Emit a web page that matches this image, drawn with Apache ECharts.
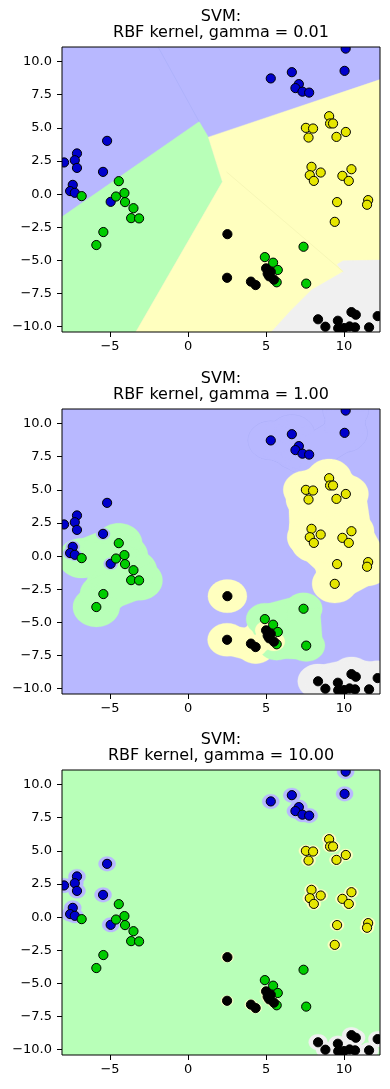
<!DOCTYPE html>
<html><head><meta charset="utf-8">
<script src="https://cdn.jsdelivr.net/npm/echarts@6/dist/echarts.min.js"></script>
<style>html,body{margin:0;padding:0;background:#fff}#c{width:390px;height:1089px}</style>
</head><body><div id="c"></div>
<script>
// ---- data ----
const blueTop = [[5.3,8.73],[6.65,9.2],[7.1,8.3],[6.88,8.0],[7.33,7.73],[7.76,7.66],[10.1,10.98],[10.03,9.3]];
const blueLeft = [[-7.95,2.39],[-7.12,3.07],[-7.26,2.56],[-7.12,1.98],[-7.39,0.70],[-7.56,0.23],[-7.26,0.10],[-5.19,4.02],[-5.45,1.68],[-4.96,-0.58]];
const yellowPts = [[7.55,5.0],[8.01,4.95],[7.72,4.27],[9.04,5.88],[9.1,5.33],[9.29,5.33],[9.51,4.32],[10.11,4.69],[7.91,2.06],[7.80,1.43],[8.06,1.0],[8.50,1.63],[9.89,1.38],[10.47,1.88],[10.30,1.0],[9.55,-0.6],[11.54,-0.45],[11.47,-0.8],[9.40,-2.09]];
const greenLeft = [[-4.44,0.98],[-4.62,-0.18],[-4.08,0.08],[-4.04,-0.60],[-3.50,-1.06],[-3.65,-1.81],[-3.14,-1.83],[-6.82,-0.15],[-5.43,-2.86],[-5.88,-3.84]];
const greenMid = [[4.92,-4.75],[5.45,-5.17],[5.75,-5.72],[5.68,-6.65],[7.40,-3.97],[7.57,-6.75]];
const blackMid = [[2.52,-3.02],[2.5,-6.31],[4.03,-6.6],[4.33,-6.86],[5.0,-5.6],[5.1,-6.0],[5.3,-5.85],[5.2,-6.2],[5.5,-6.45]];
const blackCorner = [[8.33,-9.44],[8.8,-10.0],[9.6,-9.55],[9.62,-10.12],[10.0,-10.1],[10.47,-8.9],[10.75,-9.1],[10.35,-9.98],[10.7,-10.05],[11.6,-10.05],[12.15,-9.2]];
const gammas = ['0.01', '1.00', '10.00'];
const xTicks = [-5, 0, 5, 10];
const yTicks = [-10, -7.5, -5, -2.5, 0, 2.5, 5, 7.5, 10];
const xRange = [-8.08, 12.3];
const yRange = [-10.4, 11.1];
// plot 1 (gamma = 0.01) decision regions, data units
const p1Green = [[-8.08,-1.71],[0.71,5.47],[1.3,4.3],[2.2,0.93],[-3.35,-10.4],[-8.08,-10.4]];
const p1Yellow = [[1.3,4.3],[12.3,8.64],[12.3,-10.4],[-3.35,-10.4],[2.2,0.93]];
const p1Gray = [[5.34,-10.4],[6.52,-8.87],[7.91,-7.23],[9.94,-5.85],[9.55,-5.3],[9.94,-5.03],[12.3,-4.97],[12.3,-10.4]];
const p1BlueEdge = [[-1.92,11.1],[0.71,5.47]];
const p1YellowEdge = [[2.46,1.68],[9.94,-5.85]];

// ---- styles ----
const C = {blue:'#0000cc', green:'#00cc00', yellow:'#e6e600', black:'#000000'};
const BG = {blue:'#b8b8ff', green:'#b8ffb8', yellow:'#ffffbf', gray:'#f0f0f0'};
const grids = [47, 409, 770].map(t => ({left:62, top:t, width:318, height:285, show:true, borderWidth:0, backgroundColor:'#fff'}));
grids[0].backgroundColor = BG.blue; grids[1].backgroundColor = BG.blue; grids[2].backgroundColor = BG.green;

const font = '"DejaVu Sans", sans-serif';
const minus = s => String(s).replace('-', '\u2212');
const xAxes = grids.map((g,i) => ({type:'value', gridIndex:i, min:xRange[0], max:xRange[1], position:'bottom',
  splitLine:{show:false}, axisLine:{show:false, onZero:false},
  axisTick:{show:true, inside:false, length:5, customValues:xTicks, lineStyle:{color:'#000', width:1}},
  axisLabel:{customValues:xTicks, color:'#000', fontSize:13, fontFamily:font, margin:8, formatter:v=>minus(v)}}));
const yAxes = grids.map((g,i) => ({type:'value', gridIndex:i, min:yRange[0], max:yRange[1], position:'left',
  splitLine:{show:false}, axisLine:{show:false, onZero:false},
  axisTick:{show:true, inside:false, length:5, customValues:yTicks, lineStyle:{color:'#000', width:1}},
  axisLabel:{customValues:yTicks, color:'#000', fontSize:13, fontFamily:font, margin:10, formatter:v=>minus(Number(v).toFixed(1))}}));

function polySeries(gi, verts, fill) {
  return {type:'custom', xAxisIndex:gi, yAxisIndex:gi, silent:true, clip:true, z:1, data:[verts[0]],
    renderItem:(p, api) => ({type:'polygon', shape:{points:verts.map(v=>api.coord(v))}, style:{fill:fill, stroke:fill, lineWidth:0.5}})};
}
function lineSeries(gi, verts, color) {
  return {type:'custom', xAxisIndex:gi, yAxisIndex:gi, silent:true, clip:true, z:1, data:[verts[0]],
    renderItem:(p, api) => ({type:'polyline', shape:{points:verts.map(v=>api.coord(v))}, style:{fill:'none', stroke:color, lineWidth:1}})};
}
// region made of ellipses around points plus bridges between close points (data units)
function blobSeries(gi, pts, R, D, fill, stroke) {
  const pairs = [];
  for (let i = 0; i < pts.length; i++) for (let j = i + 1; j < pts.length; j++) {
    const dx = pts[j][0] - pts[i][0], dy = pts[j][1] - pts[i][1];
    if (Math.hypot(dx, dy) < D) pairs.push([pts[i][0], pts[i][1], pts[j][0], pts[j][1]]);
  }
  const st = {fill:fill, stroke:stroke || fill, lineWidth:stroke ? 1 : 0.3};
  const out = [{type:'custom', xAxisIndex:gi, yAxisIndex:gi, silent:true, clip:true, z:1, data:pts,
    renderItem:(p, api) => {
      const c = api.coord([api.value(0), api.value(1)]);
      const s = api.size([R, R]);
      return {type:'ellipse', shape:{cx:c[0], cy:c[1], rx:s[0], ry:s[1]}, style:st};
    }}];
  if (pairs.length) out.push({type:'custom', xAxisIndex:gi, yAxisIndex:gi, silent:true, clip:true, z:1, data:pairs,
    renderItem:(p, api) => {
      const x1 = api.value(0), y1 = api.value(1), x2 = api.value(2), y2 = api.value(3);
      const L = Math.hypot(x2 - x1, y2 - y1), k = 0.88 * R;
      const nx = -(y2 - y1) / L * k, ny = (x2 - x1) / L * k;
      const pts4 = [[x1 + nx, y1 + ny], [x2 + nx, y2 + ny], [x2 - nx, y2 - ny], [x1 - nx, y1 - ny]].map(v => api.coord(v));
      return {type:'polygon', shape:{points:pts4}, style:st};
    }});
  return out;
}
function pointSeries(gi, pts, color) {
  return {type:'custom', xAxisIndex:gi, yAxisIndex:gi, silent:true, clip:true, z:3, data:pts,
    renderItem:(p, api) => {
      const c = api.coord([api.value(0), api.value(1)]);
      return {type:'circle', shape:{cx:c[0], cy:c[1], r:4.6}, style:{fill:color, stroke:'#000', lineWidth:1}};
    }};
}
function frameSeries(gi) {
  return {type:'custom', xAxisIndex:gi, yAxisIndex:gi, silent:true, clip:false, z:5, data:[[0,0]],
    renderItem:(p, api) => {
      const cs = p.coordSys;
      return {type:'rect', shape:{x:cs.x, y:cs.y, width:cs.width, height:cs.height}, style:{fill:'none', stroke:'#000', lineWidth:1}};
    }};
}

const series = [];
// plot 1
series.push(polySeries(0, p1Green, BG.green));
series.push(polySeries(0, p1Yellow, BG.yellow));
series.push(polySeries(0, p1Gray, BG.gray));
series.push(lineSeries(0, p1BlueEdge, '#aeb2fb'));
series.push(lineSeries(0, p1YellowEdge, '#f7f7b6'));
// plot 2
series.push(...blobSeries(1, blueTop, 1.45, 3.0, BG.blue, '#aaaef8'));
series.push(...blobSeries(1, blueTop, 1.45, 3.0, BG.blue));
series.push(...blobSeries(1, blackMid, 1.25, 2.0, BG.yellow));
series.push(...blobSeries(1, greenLeft, 1.5, 3.0, BG.green));
series.push(...blobSeries(1, greenMid, 1.2, 3.0, BG.green));
series.push(...blobSeries(1, blackMid, 0.7, 1.2, BG.yellow));
series.push(...blobSeries(1, blueLeft, 0.45, 0.1, BG.blue));
series.push(...blobSeries(1, yellowPts, 1.45, 2.9, BG.yellow));
series.push(...blobSeries(1, blackCorner, 1.3, 2.5, BG.gray));
// plot 3
series.push(...blobSeries(2, blueTop, 0.55, 0.1, BG.blue));
series.push(...blobSeries(2, blueLeft, 0.55, 0.1, BG.blue));
series.push(...blobSeries(2, yellowPts, 0.45, 0.1, BG.yellow));
series.push(...blobSeries(2, blackMid, 0.4, 0.1, '#f6fcc4'));
series.push(...blobSeries(2, blackCorner, 0.6, 0.1, BG.gray));
// points + frames
for (let g = 0; g < 3; g++) {
  series.push(pointSeries(g, blueTop, C.blue));
  series.push(pointSeries(g, blueLeft, C.blue));
  series.push(pointSeries(g, yellowPts, C.yellow));
  series.push(pointSeries(g, greenLeft, C.green));
  series.push(pointSeries(g, greenMid, C.green));
  series.push(pointSeries(g, blackMid, C.black));
  series.push(pointSeries(g, blackCorner, C.black));
  series.push(frameSeries(g));
}

const graphic = [];
[0, 362, 723].forEach((off, i) => {
  graphic.push({type:'text', x:221, y:17 + off, style:{text:'SVM:', fill:'#000', font:'16px ' + font, textAlign:'center', textVerticalAlign:'middle'}});
  graphic.push({type:'text', x:221, y:33 + off, style:{text:'RBF kernel, gamma = ' + gammas[i], fill:'#000', font:'16px ' + font, textAlign:'center', textVerticalAlign:'middle'}});
});

const chart = echarts.init(document.getElementById('c'), null, {renderer:'canvas'});
chart.setOption({animation:false, grid:grids, xAxis:xAxes, yAxis:yAxes, series:series, graphic:graphic});
</script></body></html>
